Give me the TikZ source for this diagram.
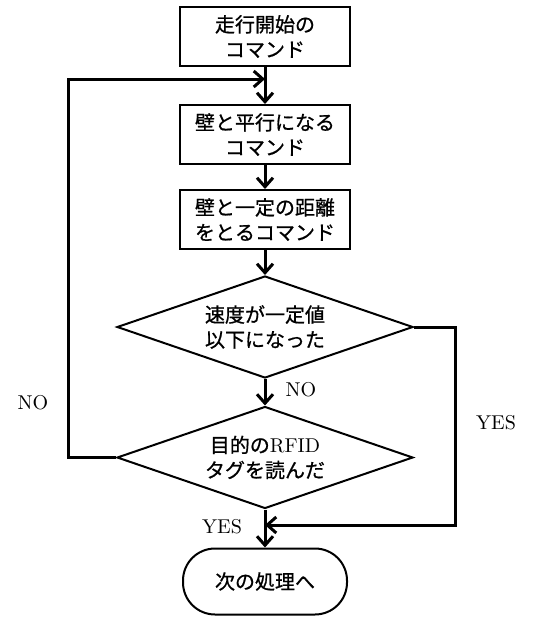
\documentclass[tikz,border=0pt]{standalone}
\usepackage{fontspec}
\newfontfamily\jp[FakeBold=0.8]{Noto Sans CJK JP}
\usetikzlibrary{arrows.meta,shapes.geometric,positioning}

\tikzset{
  cmdbox/.style={draw, line width=1pt, minimum width=85pt, minimum height=29.5pt,
                 inner sep=0pt, align=center, font=\jp\fontsize{10pt}{12.5pt}\selectfont},
  decide/.style={diamond, aspect=2.9, draw, line width=1pt, minimum width=148pt, minimum height=51pt,
                 inner sep=0pt, align=center, font=\jp\fontsize{10pt}{12.5pt}\selectfont},
  endbox/.style={draw, line width=1pt, rounded corners=16pt, minimum width=82pt,
                 minimum height=33pt, inner sep=0pt, font=\jp\fontsize{10pt}{12.5pt}\selectfont},
  flow/.style={line width=1.5pt, -{Straight Barb[length=4.5pt,width=8pt]}},
  lbl/.style={font=\fontsize{10pt}{12pt}\selectfont}
}

\begin{document}
\begin{tikzpicture}[x=0.5pt,y=-0.5pt]
    \useasboundingbox (0,0) rectangle (535,628);

      \node(start) at (265,36.5) [cmdbox] {走行開始の\\コマンド};
      \node(para)  at (265,134.5) [cmdbox] {壁と平行になる\\コマンド};
      \node(dist)  at (265,219.5) [cmdbox] {壁と一定の距離\\をとるコマンド};

      \node(speed) at (265,327) [decide] {速度が一定値\\以下になった};
      \node(rfid)  at (265,457.5) [decide] {目的の{\rmfamily RFID}\\タグを読んだ};

      \node(next)  at (265,581.5) [endbox] {次の処理へ};

      \coordinate(loopin) at (265,79);
      \coordinate(yesin)  at (265,525);

      \node(nol)  at (33,403) [lbl] {NO};
      \node(nom)  at (301,390) [lbl] {NO};
      \node(yesr) at (496,423) [lbl] {YES};
      \node(yesb) at (222,527) [lbl] {YES};

    \draw (start.south) edge[flow] (para.north);
    \draw (para.south) edge[flow] (dist.north);
    \draw (dist.south) edge[flow] (speed.north);
    \draw (speed.south) edge[flow] (rfid.north);
    \draw (rfid.south) edge[flow] (next.north);

    \draw[flow] (rfid.west) -- ++(-48,0) |- (loopin);
    \draw[flow] (speed.east) -- ++(41,0) |- (yesin);
  \end{tikzpicture}
\end{document}
